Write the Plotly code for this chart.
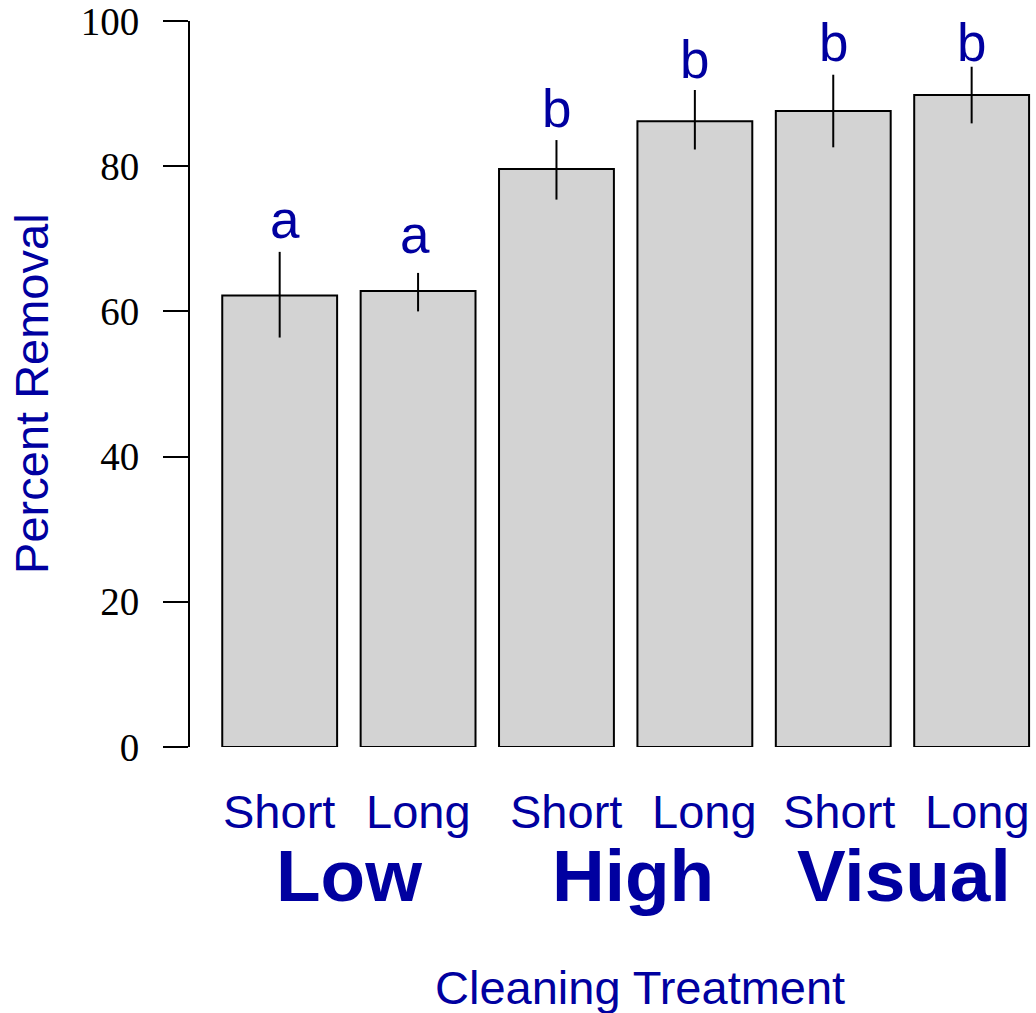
import plotly.graph_objects as go

# ---- data ----
treatments = ["Low", "Low", "High", "High", "Visual", "Visual"]
durations = ["Short", "Long", "Short", "Long", "Short", "Long"]
means = [62.2, 62.8, 79.6, 86.2, 87.6, 89.8]
err_upper = [68.2, 65.3, 83.6, 90.5, 92.6, 93.7]
err_lower = [56.4, 60.0, 75.4, 82.3, 82.6, 85.9]
letters = ["a", "a", "b", "b", "b", "b"]
letter_y = [72.7, 70.6, 88.0, 94.7, 97.0, 97.0]
groups = ["Low", "High", "Visual"]
y_ticks = [0, 20, 40, 60, 80, 100]

BLUE = "#0000A0"
SANS = "Liberation Sans, Arial, sans-serif"
SERIF = "Liberation Serif, Times New Roman, serif"

cats = [f"{t} {d}" for t, d in zip(treatments, durations)]
plus = [u - m for u, m in zip(err_upper, means)]
minus = [m - l for m, l in zip(means, err_lower)]

fig = go.Figure()
fig.add_trace(go.Bar(
    x=cats, y=means,
    marker=dict(color="#D3D3D3", line=dict(color="black", width=2)),
    error_y=dict(type="data", symmetric=False, array=plus, arrayminus=minus,
                 width=0, thickness=2, color="black"),
    showlegend=False, hoverinfo="skip",
))

annotations = []
# significance letters
letter_shift = [5, -3, 0, 0, 0, 0]
for i, (lt, ly) in enumerate(zip(letters, letter_y)):
    annotations.append(dict(x=i, y=ly, xref="x", yref="y", text=lt, showarrow=False,
                            xanchor="center", yanchor="middle", xshift=letter_shift[i],
                            font=dict(family=SANS, size=53, color=BLUE)))
# duration labels
dur_shift = [-1, 0, 10, 10, 6, 6]
for i, d in enumerate(durations):
    annotations.append(dict(x=i, y=-0.0891, xref="x", yref="paper", text=d, showarrow=False,
                            xanchor="center", yanchor="middle", xshift=dur_shift[i],
                            font=dict(family=SANS, size=47, color=BLUE)))
# group labels
grp_shift = [0, 7, 2]
for g, gname in enumerate(groups):
    annotations.append(dict(x=2 * g + 0.5, y=-0.1775, xref="x", yref="paper",
                            text=f"<b>{gname}</b>", showarrow=False,
                            xanchor="center", yanchor="middle", xshift=grp_shift[g],
                            font=dict(family=SANS, size=73, color=BLUE)))
# axis titles
annotations.append(dict(x=0.532, y=-0.3306, xref="paper", yref="paper",
                        text="Cleaning Treatment", showarrow=False,
                        xanchor="center", yanchor="middle",
                        font=dict(family=SANS, size=47, color=BLUE)))
annotations.append(dict(x=-0.1874, y=0.487, xref="paper", yref="paper",
                        text="Percent Removal", showarrow=False, textangle=-90,
                        xanchor="center", yanchor="middle",
                        font=dict(family=SANS, size=47, color=BLUE)))

fig.update_layout(
    width=1036, height=1013,
    margin=dict(l=190, r=0, t=21, b=266, pad=0),
    plot_bgcolor="white", paper_bgcolor="white",
    bargap=0.17,
    annotations=annotations,
    xaxis=dict(range=[-0.648, 5.465], showticklabels=False, ticks="",
               showline=False, showgrid=False, zeroline=False, fixedrange=True),
    yaxis=dict(range=[0, 100], tickvals=y_ticks, ticktext=[str(v) for v in y_ticks],
               ticks="outside", ticklen=25, tickwidth=2, tickcolor="black",
               showline=True, linewidth=2, linecolor="black",
               showgrid=False, zeroline=False, ticklabelstandoff=16,
               ticklabeloverflow="allow",
               tickfont=dict(family=SERIF, size=39, color="black")),
)

fig.write_html("out.html", config={"displayModeBar": False},
               post_script="document.body.style.margin='0';document.body.style.padding='0';")
